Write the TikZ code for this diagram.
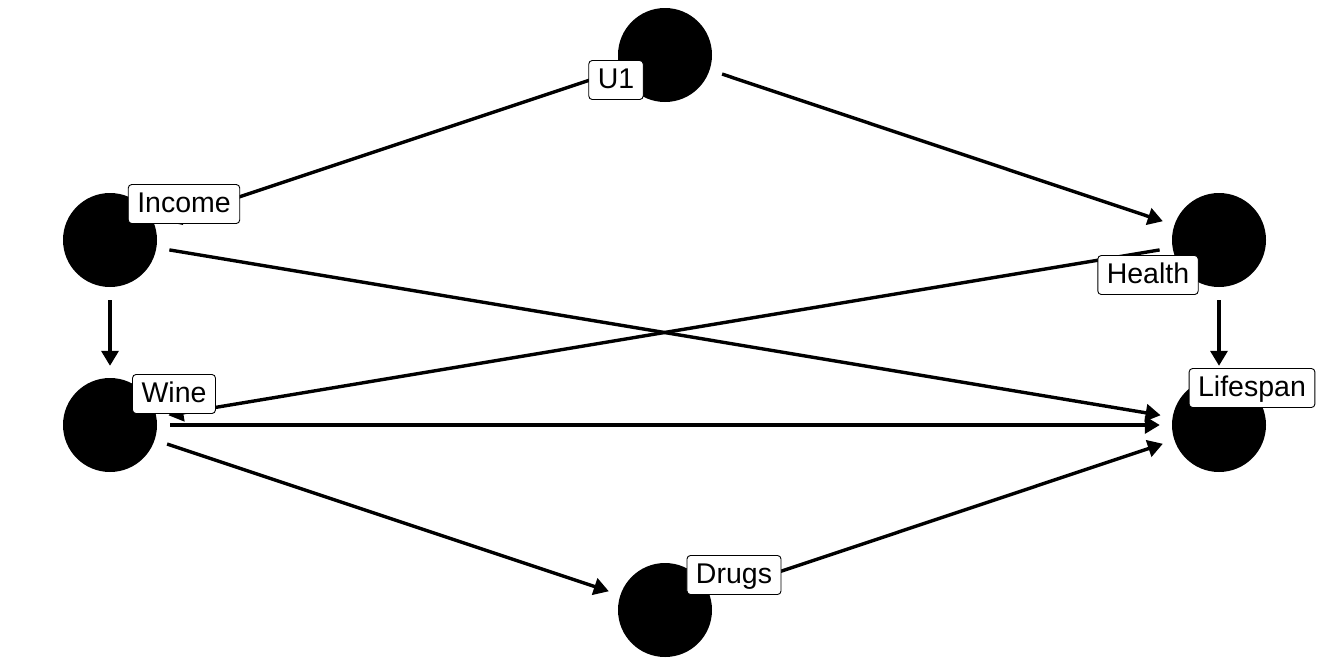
\documentclass[tikz,border=0pt]{standalone}
\usepackage{fontspec}
\setmainfont{Liberation Sans}
\usetikzlibrary{arrows.meta}

\begin{document}
\begin{tikzpicture}[x=1pt, y=-1pt,
    dagnode/.style={circle, fill=black, minimum size=94pt, inner sep=0pt},
    dagarrow/.style={-{Triangle[length=15pt, width=17pt]}, line width=3.4pt, shorten >=12pt, shorten <=13pt},
    daglabel/.style={rectangle, draw, fill=white, line width=0.9pt, rounded corners=3.5pt,
        font=\fontsize{28.5}{32}\selectfont, inner xsep=9pt, inner ysep=0pt,
        text height=21pt, text depth=5pt, minimum height=39pt}]

    \useasboundingbox[fill=white] (0,0) rectangle (1330,665);

    % Nodes
    \node [dagnode] (u1) at (665,55) {};
    \node [dagnode] (income) at (110,240) {};
    \node [dagnode] (health) at (1219,240) {};
    \node [dagnode] (wine) at (110,425) {};
    \node [dagnode] (lifespan) at (1219,425) {};
    \node [dagnode] (drugs) at (665,610) {};

    % Arrows
    \draw [dagarrow] (u1) -- (income);
    \draw [dagarrow] (u1) -- (health);
    \draw [dagarrow] (income) -- (wine);
    \draw [dagarrow] (income) -- (lifespan);
    \draw [dagarrow] (health) -- (wine);
    \draw [dagarrow] (health) -- (lifespan);
    \draw [dagarrow] (wine) -- (lifespan);
    \draw [dagarrow] (wine) -- (drugs);
    \draw [dagarrow] (drugs) -- (lifespan);

    % Labels
    \node [daglabel] (u1label) at (616,80) {U1};
    \node [daglabel] (incomelabel) at (184,204) {Income};
    \node [daglabel] (healthlabel) at (1148,275) {Health};
    \node [daglabel] (winelabel) at (174,394) {Wine};
    \node [daglabel] (lifespanlabel) at (1252,388) {Lifespan};
    \node [daglabel] (drugslabel) at (734,575) {Drugs};

\end{tikzpicture}
\end{document}
